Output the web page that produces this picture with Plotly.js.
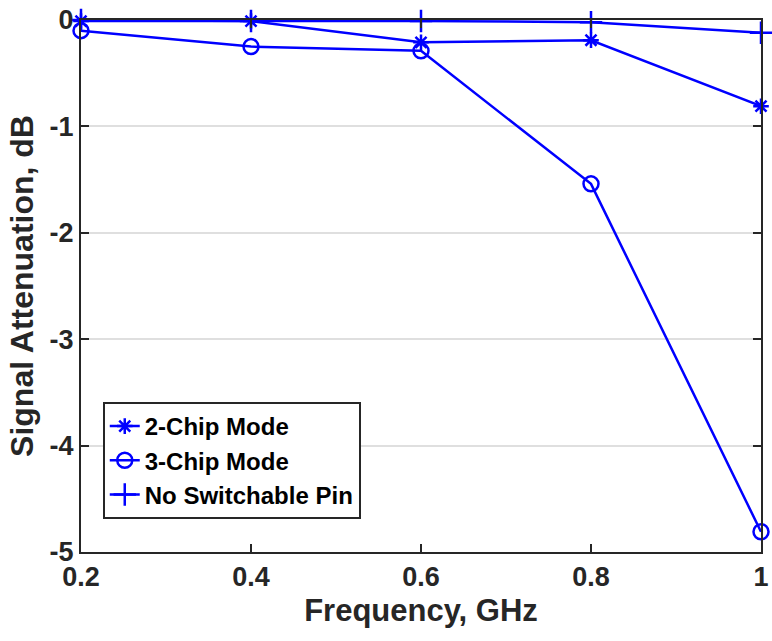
<!DOCTYPE html>
<html><head><meta charset="utf-8">
<script src="https://cdn.plot.ly/plotly-3.0.1.min.js"></script>
<style>html,body{margin:0;padding:0;background:#fff}#chart{width:772px;height:641px}</style>
</head><body><div id="chart"></div>
<script>
const freq = [0.2, 0.4, 0.6, 0.8, 1.0];
const twoChip = [-0.01, -0.01, -0.21, -0.19, -0.81];
const threeChip = [-0.10, -0.25, -0.29, -1.54, -4.81];
const noPin = [0, -0.01, -0.01, -0.02, -0.12];
const names = ['2-Chip Mode', '3-Chip Mode', 'No Switchable Pin'];
const xTicks = [0.2, 0.4, 0.6, 0.8, 1];
const xTickText = ['0.2', '0.4', '0.6', '0.8', '1'];
const yTicks = [-5, -4, -3, -2, -1, 0];
const yTickText = ['-5', '-4', '-3', '-2', '-1', '0'];

const blue = '#0000ff';
const fam = '"Liberation Sans", Arial, Helvetica, sans-serif';
const txt = '#262626';
function tr(y, name, sym, size) {
  return {x: freq, y: y, name: name, type: 'scatter', mode: 'lines+markers',
    line: {color: blue, width: 2.5},
    marker: {symbol: sym, size: size, color: blue, line: {color: blue, width: 2.5}},
    cliponaxis: false};
}
const data = [
  tr(twoChip, names[0], 'asterisk-open', 13),
  tr(threeChip, names[1], 'circle-open', 15),
  tr(noPin, names[2], 'cross-thin-open', 16)
];
const layout = {
  width: 772, height: 641,
  paper_bgcolor: '#fff', plot_bgcolor: '#fff',
  margin: {l: 81, r: 11, t: 20, b: 89},
  showlegend: true,
  legend: {x: 0.032, y: 0.282, xanchor: 'left', yanchor: 'top',
    bordercolor: txt, borderwidth: 2, bgcolor: '#fff',
    font: {family: fam, size: 24, color: '#000', weight: 'bold'},
    tracegroupgap: 0, itemwidth: 30},
  xaxis: {range: [0.2, 1], tickvals: xTicks, ticktext: xTickText,
    ticks: 'inside', ticklen: 8, tickwidth: 2, tickcolor: txt,
    showline: true, linecolor: txt, linewidth: 2, mirror: 'ticks',
    showgrid: false, zeroline: false,
    tickfont: {family: fam, size: 27, color: txt, weight: 'bold'},
    title: {text: 'Frequency, GHz', standoff: 8,
      font: {family: fam, size: 31, color: txt, weight: 'bold'}}},
  yaxis: {range: [-5, 0], tickvals: yTicks, ticktext: yTickText,
    ticks: 'inside', ticklen: 8, tickwidth: 2, tickcolor: txt,
    showline: true, linecolor: txt, linewidth: 2, mirror: 'ticks',
    showgrid: true, gridcolor: '#dfdfdf', gridwidth: 2, zeroline: false,
    tickfont: {family: fam, size: 27, color: txt, weight: 'bold'},
    title: {text: 'Signal Attenuation, dB', standoff: 6,
      font: {family: fam, size: 32, color: txt, weight: 'bold'}}}
};
Plotly.newPlot('chart', data, layout, {displayModeBar: false, staticPlot: true});
</script></body></html>
